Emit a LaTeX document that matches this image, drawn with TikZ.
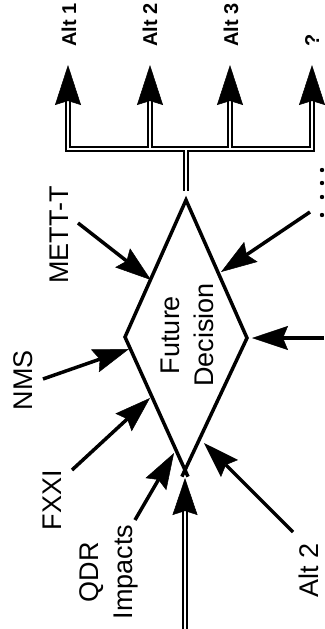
\documentclass[tikz,border=0pt]{standalone}
\usepackage{fontspec}
\setmainfont{Liberation Sans}
\usetikzlibrary{arrows.meta,calc}
\tikzset{
  dtip/.tip={Stealth[length=40pt,width=26pt,inset=4pt,line width=0.5pt]},
  itip/.tip={Stealth[length=36pt,width=24pt,inset=5pt,line width=0.5pt]}
}
\begin{document}
\begin{tikzpicture}[x=1pt,y=-1pt,
  lbl/.style={font=\fontsize{27}{34}\selectfont, rotate=90, inner sep=0pt, align=center},
  alt/.style={font=\fontsize{20}{24}\selectfont\bfseries, rotate=90, inner sep=0pt, anchor=base west},
  inarrow/.style={line width=3.5pt, -{itip}},
  dbl/.style={double, double distance=2.6pt, line width=1.3pt},
  diam/.style={line width=3.5pt, line join=miter}
]
\useasboundingbox (0,0) rectangle (324,629);
% diamond corners
\coordinate (T) at (186,200);
\coordinate (L) at (125,337);
\coordinate (R) at (247,338);
\coordinate (B) at (185,470);
\draw[diam] ($(L)!1.05!(B)$) -- (L) -- (T) -- (R) -- ($(R)!1.05!(B)$);
\node[lbl] (dec) at (187,335) {Future\\Decision};

% output labels
\node[alt] (a1) at (76,47) {Alt 1};
\node[alt] (a2) at (157,47) {Alt 2};
\node[alt] (a3) at (238,47) {Alt 3};
\node[alt] (a4) at (319,47) {?};
\coordinate (t1) at (68,65);
\coordinate (t2) at (150,65);
\coordinate (t3) at (230,65);
\coordinate (t4) at (312,65);
\coordinate (b1) at (68,149);
\coordinate (b2) at (150,147.7);
\coordinate (b3) at (230,147.7);
\coordinate (b4) at (312,149);
\coordinate (bc) at (186,150.3);
\coordinate (st) at (186,191);
\draw[dbl, {dtip}-{dtip}] (t1) -- (b1) -- (b4) -- (t4);
\draw[dbl, -{dtip}] (b2) -- (t2);
\draw[dbl, -{dtip}] (b3) -- (t3);
\draw[dbl] (bc) -- (st);

% input labels
\node[lbl] (mett) at (59,235) {METT-T};
\node[lbl] (nms) at (23,380) {NMS};
\node[lbl] (fxxi) at (52,500) {FXXI};
\node[lbl] (qdr) at (109,572) {QDR\\Impacts};
\node[lbl] (alt2) at (309,570) {Alt 2};

% input arrows
\coordinate (sm) at (78,223);   \coordinate (tm) at (151,280);
\coordinate (sn) at (43,379);   \coordinate (tn) at (129,349);
\coordinate (sf) at (72,470);   \coordinate (tf) at (150,398);
\coordinate (sq) at (135,520);  \coordinate (tq) at (174,453);
\coordinate (sa) at (293,532);  \coordinate (ta) at (204,443);
\coordinate (sr) at (324,338);  \coordinate (tr) at (252,338);
\coordinate (sd) at (310,212);  \coordinate (td) at (221,272);
\draw[inarrow] (sm) -- (tm);
\draw[inarrow] (sn) -- (tn);
\draw[inarrow] (sf) -- (tf);
\draw[inarrow] (sq) -- (tq);
\draw[inarrow] (sa) -- (ta);
\draw[inarrow] (sr) -- (tr);
\draw[inarrow] (sd) -- (td);

% bottom double input
\coordinate (bi) at (185,629);
\coordinate (bt) at (185,478);
\draw[dbl, -{Stealth[length=37pt,width=25pt,inset=4pt,line width=0.5pt]}] (bi) -- (bt);

% truncated dots at the right edge
\foreach \yy in {170,183,197,215}
  \fill (322,\yy) circle[radius=2.2pt];
\end{tikzpicture}
\end{document}
